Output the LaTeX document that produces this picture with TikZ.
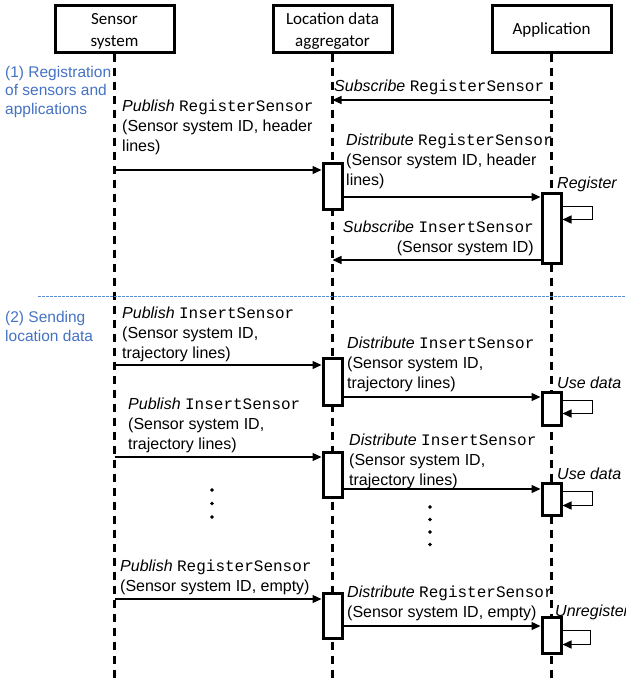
\documentclass[tikz,border=0pt]{standalone}
\usepackage{fontspec}
\setmainfont{Liberation Sans}
\setmonofont{Liberation Mono}
\newfontfamily\headfont{Carlito}
\usetikzlibrary{arrows.meta}
\definecolor{phaseblue}{HTML}{4472C4}
\definecolor{lineblue}{HTML}{5B8BD0}

\begin{document}
\begin{tikzpicture}[x=1pt,y=-1pt,
	actor/.style={draw, line width=3pt, minimum width=119pt, minimum height=47pt, inner sep=0pt},
	headtext/.style={align=center, inner sep=0pt, font=\headfont\fontsize{17}{22}\selectfont},
	life/.style={line width=2.5pt, dash pattern=on 8pt off 6pt},
	act/.style={draw, fill=white, line width=3pt, minimum width=19pt, inner sep=0pt},
	msg/.style={line width=1.3pt, -{Triangle[length=9pt,width=8pt]}},
	lbl/.style={anchor=base west, inner sep=0pt, align=left, font=\fontsize{16}{20}\selectfont},
	rlbl/.style={lbl, anchor=base east, align=right},
	phase/.style={lbl, text=phaseblue, font=\fontsize{15.5}{18.5}\selectfont}]
	\useasboundingbox (0,0) rectangle (626,681);
	\clip (0,0) rectangle (626,681);

	% draw actors and lifelines
	\node[actor, label={[headtext, yshift=-2.5pt]center:{Sensor\\system}}] (sen) at (114.5,28.5) {};
	\node[actor, label={[headtext, yshift=-2.5pt]center:{Location data\\aggregator}}] (agg) at (332.5,28.5) {};
	\node[actor, label={[headtext, yshift=-1pt]center:{Application}}] (app) at (551.5,28.5) {};
	\coordinate (bottom) at (0,681);
	\foreach \n in {sen,agg,app} {
		\draw[life] (\n.south) -- (\n.south |- bottom);
	}

	% phase separator
	\draw[lineblue, line width=0.8pt, dash pattern=on 2.5pt off 1.5pt] (38,296) -- (626,296);
	\node[phase] (ph1) at (5,114) {(1) Registration\\of sensors and\\applications};
	\node[phase] (ph2) at (5,341) {(2) Sending\\location data};

	% activation boxes
	\node[act, minimum height=46pt] (agg1) at (332.5,186) {};
	\node[act, minimum height=70pt] (app1) at (551.5,228) {};
	\node[act, minimum height=47pt] (agg2) at (332.5,381.5) {};
	\node[act, minimum height=33pt] (app2) at (551.5,408.5) {};
	\node[act, minimum height=45pt] (agg3) at (332.5,474.5) {};
	\node[act, minimum height=32pt] (app3) at (551.5,499) {};
	\node[act, minimum height=45pt] (agg4) at (332.5,615.5) {};
	\node[act, minimum height=36pt] (app4) at (551.5,635) {};

	% (1) registration messages
	\coordinate (p1) at (551.5,100);
	\draw[msg] (p1) -- (p1 -| agg);
	\node[lbl] (t1) at (334,91) {\textit{Subscribe} \texttt{RegisterSensor}};
	\coordinate (s1) at (114.5,170);
	\draw[msg] (s1) -- (s1 -| agg1.west);
	\node[lbl] (t2) at (122,151) {\textit{Publish} \texttt{RegisterSensor}\\(Sensor system ID, header\\lines)};
	\coordinate (a1) at (342,197);
	\draw[msg] (a1 -| agg1.east) -- (a1 -| app1.west);
	\node[lbl] (t3) at (346,185) {\textit{Distribute} \texttt{RegisterSensor}\\(Sensor system ID, header\\lines)};
	\node[lbl] (t4) at (557,188) {\textit{Register}};
	\draw[msg] ([yshift=-15pt]app1.north east) -- ++(30,0) |- ([yshift=-28pt]app1.north east);
	\coordinate (p2) at (542,260);
	\draw[msg] (p2 -| app1.west) -- (p2 -| agg);
	\node[rlbl] (t5) at (534,252) {\textit{Subscribe} \texttt{InsertSensor}\\(Sensor system ID)};

	% (2) location data messages
	\coordinate (s2) at (114.5,365);
	\draw[msg] (s2) -- (s2 -| agg2.west);
	\node[lbl] (t6) at (122,358) {\textit{Publish} \texttt{InsertSensor}\\(Sensor system ID,\\trajectory lines)};
	\coordinate (a2) at (342,397);
	\draw[msg] (a2 -| agg2.east) -- (a2 -| app2.west);
	\node[lbl] (t7) at (347,388) {\textit{Distribute} \texttt{InsertSensor}\\(Sensor system ID,\\trajectory lines)};
	\node[lbl] (t8) at (557,388) {\textit{Use data}};
	\draw[msg] ([yshift=-10pt]app2.north east) -- ++(30,0) |- ([yshift=-23pt]app2.north east);

	\coordinate (s3) at (114.5,457);
	\draw[msg] (s3) -- (s3 -| agg3.west);
	\node[lbl] (t9) at (128,449) {\textit{Publish} \texttt{InsertSensor}\\(Sensor system ID,\\trajectory lines)};
	\coordinate (a3) at (342,489);
	\draw[msg] (a3 -| agg3.east) -- (a3 -| app3.west);
	\node[lbl] (t10) at (349,485) {\textit{Distribute} \texttt{InsertSensor}\\(Sensor system ID,\\trajectory lines)};
	\node[lbl] (t11) at (557,479) {\textit{Use data}};
	\draw[msg] ([yshift=-10pt]app3.north east) -- ++(30,0) |- ([yshift=-24pt]app3.north east);

	% more of the same
	\foreach \y in {490,503.5,517} {
		\filldraw[black] (212,\y) circle [radius=1.6pt];
	}
	\foreach \y in {507,519.5,532,544.5} {
		\filldraw[black] (430,\y) circle [radius=1.6pt];
	}

	% unregister
	\coordinate (s4) at (114.5,599);
	\draw[msg] (s4) -- (s4 -| agg4.west);
	\node[lbl] (t12) at (120,591) {\textit{Publish} \texttt{RegisterSensor}\\(Sensor system ID, empty)};
	\coordinate (a4) at (342,626);
	\draw[msg] (a4 -| agg4.east) -- (a4 -| app4.west);
	\node[lbl] (t13) at (347,617) {\textit{Distribute} \texttt{RegisterSensor}\\(Sensor system ID, empty)};
	\node[lbl] (t14) at (555,616) {\textit{Unregister}};
	\draw[msg] ([yshift=-15pt]app4.north east) -- ++(28,0) |- ([yshift=-29pt]app4.north east);
\end{tikzpicture}
\end{document}
